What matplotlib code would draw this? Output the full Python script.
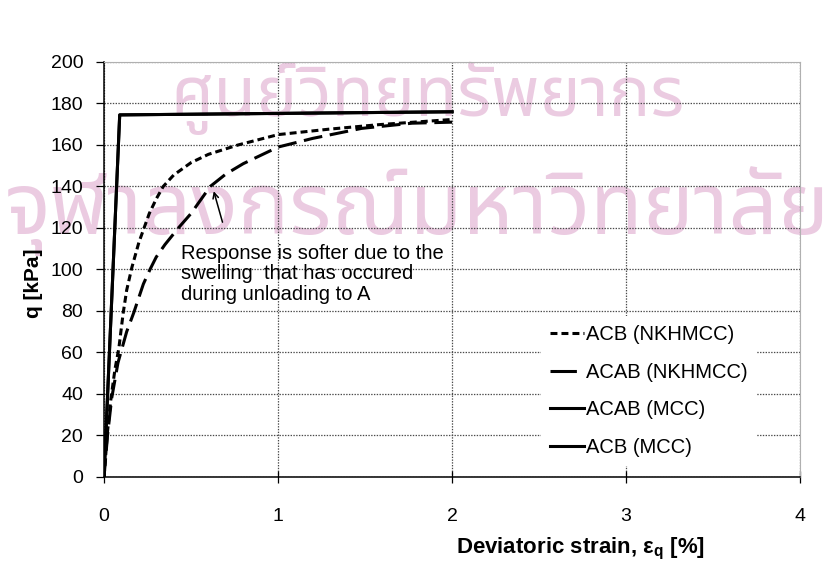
import matplotlib
matplotlib.use("Agg")
import matplotlib.pyplot as plt
from matplotlib.lines import Line2D

plt.rcParams['font.family'] = ['Liberation Sans', 'DejaVu Sans']
plt.rcParams['mathtext.fontset'] = 'custom'
plt.rcParams['mathtext.rm'] = 'Liberation Sans'
plt.rcParams['mathtext.bf'] = 'Liberation Sans:bold'
plt.rcParams['lines.scale_dashes'] = False

# ACB path, NKHMCC model
eps_acb_nk = [0, 0.02, 0.04, 0.063, 0.085, 0.11, 0.13, 0.16, 0.2, 0.23, 0.26,
              0.3, 0.34, 0.4, 0.5, 0.6, 0.77, 1.0, 1.29, 1.58, 2.0]
q_acb_nk = [0, 22, 38, 52, 62, 79, 90, 101, 113, 120, 127,
            134, 140, 145.5, 151.5, 155.5, 160, 165, 167.6, 169.8, 172.3]

# ACAB path, NKHMCC model
eps_acab_nk = [0, 0.02, 0.044, 0.08, 0.13, 0.17, 0.226, 0.264, 0.3, 0.35, 0.427,
               0.5, 0.61, 0.7, 0.8, 1.0, 1.2, 1.48, 1.77, 2.0]
q_acab_nk = [0, 20, 38, 55, 70, 79, 93, 100, 106, 112, 120,
             127, 140, 146, 151, 159, 163.2, 168, 170.5, 171]

# MCC model (ACAB and ACB coincide)
eps_acab_mcc = [0, 0.09, 2.0]
q_acab_mcc = [0, 174.5, 176]
eps_acb_mcc = [0, 0.09, 2.0]
q_acb_mcc = [0, 174.5, 176]

x_ticks = [0, 1, 2, 3, 4]
y_ticks = list(range(0, 201, 20))
series_labels = ['ACB (NKHMCC)', 'ACAB (NKHMCC)', 'ACAB (MCC)', 'ACB (MCC)']

fig = plt.figure(figsize=(8.35, 5.63), dpi=100)

# faint institutional watermark behind the chart
wm_color = '#ebcbe1'
wm_family = ['Noto Sans Thai', 'Loma', 'Garuda', 'Noto Sans', 'DejaVu Sans']
fig.text(0.512, 0.825, 'ศูนย์วิทยทรัพยากร', fontsize=50, color=wm_color,
         ha='center', va='center', fontweight='bold', zorder=-5,
         family=wm_family)
fig.text(0.50, 0.625, 'จุฬาลงกรณ์มหาวิทยาลัย', fontsize=62, color=wm_color,
         ha='center', va='center', fontweight='bold', zorder=-5,
         family=wm_family)

ax = fig.add_axes([0.1246, 0.1528, 0.8337, 0.7371])
ax.patch.set_alpha(0)

lw = 2.2
short_dash = (5, 2.9)
long_dash = (13.5, 5.5)
ax.plot(eps_acb_nk, q_acb_nk, color='black', lw=lw, dashes=short_dash,
        label=series_labels[0], zorder=3)
ax.plot(eps_acab_nk, q_acab_nk, color='black', lw=lw, dashes=long_dash,
        label=series_labels[1], zorder=3)
ax.plot(eps_acab_mcc, q_acab_mcc, color='black', lw=lw,
        label=series_labels[2], zorder=3)
ax.plot(eps_acb_mcc, q_acb_mcc, color='black', lw=lw,
        label=series_labels[3], zorder=3)

ax.set_xlim(0, 4)
ax.set_ylim(0, 200)
ax.set_xticks(x_ticks)
ax.set_yticks(y_ticks)
ax.grid(True, color='#4a4a4a', linestyle=(0, (1, 1)), linewidth=0.9)
ax.set_axisbelow(True)

for side in ('top', 'right'):
    ax.spines[side].set_color('#b0b0b0')
    ax.spines[side].set_linewidth(0.8)
for side in ('left', 'bottom'):
    ax.spines[side].set_color('black')
    ax.spines[side].set_linewidth(1.1)

ax.tick_params(axis='x', direction='inout', length=8, width=0.9,
               pad=18, labelsize=14, colors='black', top=False)
ax.tick_params(axis='y', direction='out', length=6, width=0.9,
               pad=9, labelsize=14, colors='black', right=False)

fig.text(0.040, 0.497, 'q [kPa]', fontsize=15, fontweight='bold',
         rotation=90, ha='center', va='center')
fig.text(0.695, 0.025, r'Deviatoric strain, ε$_\mathbf{q}$ [%]',
         fontsize=16, fontweight='bold', ha='center', va='center')

ax.annotate('', xy=(0.626, 139), xytext=(0.685, 121.5),
            arrowprops=dict(arrowstyle='->', color='black', lw=1.1,
                            mutation_scale=10))
ax.text(0.44, 112.5, 'Response is softer due to the\nswelling  that has occured\n'
        'during unloading to A', fontsize=14.5, ha='left', va='top',
        linespacing=1.12, zorder=4)

handles = [
    Line2D([], [], color='black', lw=lw, dashes=short_dash),
    Line2D([], [], color='black', lw=lw, dashes=(19, 10)),
    Line2D([], [], color='black', lw=lw),
    Line2D([], [], color='black', lw=lw),
]
leg = ax.legend(handles, series_labels, loc='upper left',
                bbox_to_anchor=(0.628, 0.388), frameon=True, fontsize=14.5,
                handlelength=1.65, handletextpad=0.1, labelspacing=0.93,
                borderpad=0.45, borderaxespad=0, fancybox=False)
leg.get_frame().set_facecolor('white')
leg.get_frame().set_edgecolor('none')
leg.get_frame().set_alpha(1)

fig.savefig('out.png', dpi=100)
